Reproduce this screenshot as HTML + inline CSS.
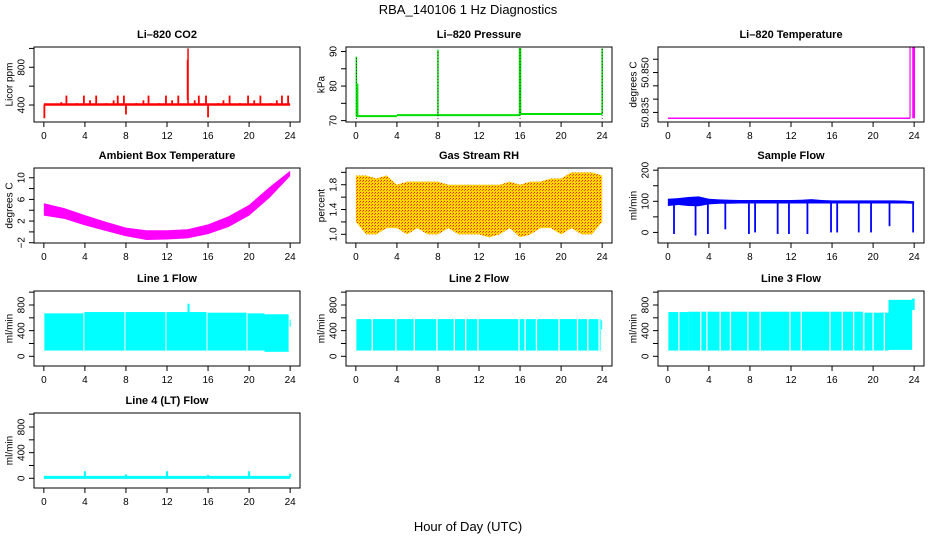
<!DOCTYPE html>
<html><head><meta charset="utf-8"><style>
body{margin:0;background:#fff}
svg{display:block;font-family:"Liberation Sans",sans-serif}
</style></head><body>
<svg id="c" width="936" height="540" viewBox="0 0 936 540">
<defs>
<pattern id="rhpat" width="3" height="3" patternUnits="userSpaceOnUse">
<rect width="3" height="3" fill="#ffd700"/><rect x="0" y="0" width="1" height="1" fill="#ff2000"/><rect x="2" y="1" width="1" height="1" fill="#ff6000"/>
</pattern>
</defs>
<text x="468" y="14" text-anchor="middle" font-size="13">RBA_140106  1 Hz Diagnostics</text>
<text x="468" y="531" text-anchor="middle" font-size="13">Hour of Day (UTC)</text>
</svg>
<script>
// ---- data ----
const xTicks=[0,4,8,12,16,20,24];
// CO2
const co2Base=405;
const co2SpikeHours=[1.7,2.2,3.2,3.9,4.5,5.1,6.1,6.8,7.2,7.8,9.0,9.7,10.2,11.2,11.9,12.5,13.1,14.7,15.1,15.8,17.0,17.5,18.1,19.1,19.9,20.5,21.1,22.1,22.7,23.2,23.8];
const co2SpikeValues=[430,500,420,500,450,500,420,450,500,500,420,450,500,420,500,450,500,450,500,500,420,450,500,420,500,450,500,420,450,500,500];
const co2DownHours=[0.05,8.0,16.0];
const co2DownValues=[260,300,270];
const co2BigHour=14.05, co2BigValue=1000;
// Pressure
const presStepHours=[0,4,16,24];
const presStepValues=[71.3,71.6,71.9];
const presSpikeHours=[0.05,8.0,16.0,24.0];
const presSpikeValues=[88.5,90.5,91.0,90.9];
// Li-820 temperature
const tempBase=50.8328;
const tempSpikeHours=[23.6,23.9,23.95,24.0];
const tempSpikeValue=50.8595;
// Ambient
const ambHours=[0,2,4,6,8,10,12,14,16,18,20,22,24];
const ambHigh=[5.3,4.4,3.1,1.9,0.8,0.3,0.3,0.5,1.4,2.9,5.0,8.3,11.3];
const ambLow=[3.0,2.4,1.2,0.2,-0.8,-1.5,-1.4,-1.2,-0.4,0.9,3.0,6.3,10.3];
// RH
const rhHours=[0,1,2,3,4,5,6,7,8,9,10,11,12,13,14,15,16,17,18,19,20,21,22,23,24];
const rhHigh=[1.95,1.95,1.9,1.95,1.8,1.85,1.85,1.85,1.85,1.8,1.8,1.8,1.8,1.8,1.8,1.85,1.8,1.85,1.85,1.9,1.9,2.0,2.0,2.0,1.95];
const rhLow=[1.2,1.0,1.0,1.1,1.1,1.0,1.1,1.0,1.0,1.1,1.0,1.0,1.0,0.95,1.0,1.1,0.95,1.0,1.1,1.1,1.0,1.1,1.0,1.0,1.2];
// Sample flow
const sfHours=[0,1,2,3,4,5,6,7,8,9,10,11,12,13,14,15,16,17,18,19,20,21,22,23,24];
const sfHigh=[108,110,114,116,108,106,105,104,104,104,104,104,104,105,107,104,103,103,103,103,103,103,103,102,100];
const sfLow=[85,88,85,84,90,92,92,93,93,93,93,93,93,93,93,93,93,93,93,93,93,93,93,93,92];
const sfDipHours=[0.6,2.7,3.9,5.6,7.9,8.5,10.7,11.8,13.6,15.9,16.5,18.6,19.8,21.6,23.9];
const sfDipValues=[-5,-10,-5,10,-5,0,-5,-5,-5,0,0,0,0,20,0];
// Line 1 flow
const l1Top=[670,690,690,690,680,670,655];
const l1Bottom=[90,90,90,90,90,90,70];
const l1Start=[0.05,3.95,7.95,11.95,15.95,19.85,21.5];
const l1End=[3.85,7.85,11.85,15.85,19.75,21.5,23.85];
const l1Gaps=[];
const l1SpikeHour=14.1, l1SpikeValue=820;
const l1EndBlock=[23.95,24.05,460,570];
// Line 2 flow
const l2Top=[580];
const l2Bottom=[90];
const l2Start=[0.05];
const l2End=[23.85];
const l2Gaps=[1.6,3.9,5.7,7.9,9.6,10.7,11.9,15.9,16.5,17.6,19.8,21.6,22.6,23.7];
const l2EndBlock=[23.9,24.0,420,560];
// Line 3 flow
const l3Top=[690,695,680,880];
const l3Bottom=[90,90,90,100];
const l3Start=[0.05,2.0,19.0,21.5];
const l3End=[2.0,19.0,21.5,23.8];
const l3Gaps=[1.07,3.2,3.8,5.1,6.1,7.8,9.0,11.9,13.0,15.8,17.0,18.1,19.1,20.0,21.1];
const l3EndBlock=[23.8,24.05,720,900];
// Line 4 flow
const l4Base=15;
const l4SpikeHours=[4.0,8.0,12.0,16.0,20.0,24.0];
const l4SpikeValues=[110,60,110,50,110,70];

// ---- layout ----
const svg=document.getElementById('c');
const NS='http://www.w3.org/2000/svg';
const colX=[34,346,658], rowY=[47,168,291,413], PW=266, PH=75;
function mk(tag,attrs,parent){const e=document.createElementNS(NS,tag);for(const k in attrs)e.setAttribute(k,attrs[k]);(parent||svg).appendChild(e);return e;}
function panel(cfg){
  const g=mk('g',{});
  
  
  const x0=colX[cfg.col], y0=rowY[cfg.row];
  const P={x0,y0,ymin:cfg.ymin,ymax:cfg.ymax,g};
  P.xs=h=>x0+(h+0.96)/25.92*PW;
  P.ys=v=>y0+PH-(v-cfg.ymin)/(cfg.ymax-cfg.ymin)*PH;
  const cp=mk('clipPath',{id:'cp'+cfg.name},g);
  mk('rect',{x:x0,y:y0,width:PW,height:PH},cp);
  P.plot=mk('g',{'clip-path':'url(#cp'+cfg.name+')'},g);
  
  
  const t=mk('text',{x:x0+PW/2,y:y0-9,'text-anchor':'middle','font-size':11,'font-weight':'bold'},g);
  t.textContent=cfg.title;
  
  
  const xa=mk('g',{},g);
  
  
  xTicks.forEach(h=>{const x=P.xs(h);mk('line',{x1:x,x2:x,y1:y0+PH,y2:y0+PH+5,stroke:'#000'},xa);
    const l=mk('text',{x:x,y:y0+PH+17,'text-anchor':'middle','font-size':10},xa);l.textContent=h;});
  const ya=mk('g',{},g);
  
  
  cfg.yticks.forEach(v=>{const y=P.ys(v);mk('line',{x1:x0-5,x2:x0,y1:y,y2:y,stroke:'#000'},ya);});
  cfg.ylabels.forEach(v=>{const y=P.ys(v);const l=mk('text',{x:x0-13,y:y,'text-anchor':'middle','font-size':10,transform:`rotate(-90 ${x0-13} ${y})`,dy:'0.35em'},ya);l.textContent=cfg.fmt?cfg.fmt(v):v;});
  const yl=mk('text',{x:x0-25,y:y0+PH/2,'text-anchor':'middle','font-size':10,transform:`rotate(-90 ${x0-25} ${y0+PH/2})`,dy:'0.35em'},g);
  yl.textContent=cfg.ylab;
  
  
  P.box=()=>mk('rect',{x:x0,y:y0,width:PW,height:PH,fill:'none',stroke:'#000'},g);
  return P;
}
function vline(P,h,v1,v2,col,w){mk('line',{x1:P.xs(h),x2:P.xs(h),y1:P.ys(v1),y2:P.ys(v2),stroke:col,'stroke-width':w||1.5},P.plot);}
function hline(P,h1,h2,v,col,w){mk('line',{x1:P.xs(h1),x2:P.xs(h2),y1:P.ys(v),y2:P.ys(v),stroke:col,'stroke-width':w||2},P.plot);}
function band(P,hrs,hi,lo,fill){let pts=hrs.map((h,i)=>P.xs(h)+','+P.ys(hi[i]));for(let i=hrs.length-1;i>=0;i--)pts.push(P.xs(hrs[i])+','+P.ys(lo[i]));mk('polygon',{points:pts.join(' '),fill:fill},P.plot);}
function rect(P,h1,h2,v1,v2,fill){mk('rect',{x:P.xs(h1),y:P.ys(v2),width:P.xs(h2)-P.xs(h1),height:P.ys(v1)-P.ys(v2),fill:fill},P.plot);}

// CO2
let P=panel({name:'co2-panel',title:'Li\u2013820 CO2',col:0,row:0,ymin:220,ymax:1015,yticks:[400,600,800,1000],ylabels:[400,800],ylab:'Licor ppm'});
hline(P,0,24,co2Base,'#f00',2.5);
co2SpikeHours.forEach((h,i)=>vline(P,h,co2Base,co2SpikeValues[i],'#f00',1.8));
co2DownHours.forEach((h,i)=>vline(P,h,co2Base,co2DownValues[i],'#f00',1.8));
vline(P,co2BigHour,co2Base,co2BigValue,'#f00',1.5);vline(P,co2BigHour-0.05,co2Base+50,co2BigValue-120,'#f00',1.5);
P.box();
// Pressure
P=panel({name:'pressure-panel',title:'Li\u2013820 Pressure',col:1,row:0,ymin:69.6,ymax:91.3,yticks:[70,75,80,85,90],ylabels:[70,80,90],ylab:'kPa'});
presStepValues.forEach((v,i)=>hline(P,presStepHours[i],presStepHours[i+1],v,'#00e000',2));
presSpikeHours.forEach((h,i)=>{vline(P,h,presStepValues[Math.min(2,Math.max(0,i-1))],presSpikeValues[i],'#00e000',i==2?2.5:1.5);
  mk('line',{x1:P.xs(h),x2:P.xs(h),y1:P.ys(70.5),y2:P.ys(presSpikeValues[i]),stroke:'#000','stroke-width':0.8,'stroke-dasharray':'1,2'},P.plot);});
vline(P,0.15,presStepValues[0],80.7,'#00e000',2);
P.box();
// Temperature
P=panel({name:'li820-temperature-panel',title:'Li\u2013820 Temperature',col:2,row:0,ymin:50.8314,ymax:50.8596,yticks:[50.835,50.840,50.845,50.850,50.855],ylabels:[50.835,50.850],fmt:v=>v.toFixed(3),ylab:'degrees C'});
hline(P,0,tempSpikeHours[0],tempBase,'#f0f',1.5);
tempSpikeHours.forEach((h,i)=>vline(P,h,tempBase,tempSpikeValue,'#f0f',i==0?1.2:1.8));
P.box();
// Ambient
P=panel({name:'ambient-temperature-panel',title:'Ambient Box Temperature',col:0,row:1,ymin:-2.05,ymax:11.8,yticks:[-2,0,2,4,6,8,10],ylabels:[-2,2,6,10],fmt:v=>v<0?'\u2212'+(-v):v,ylab:'degrees C'});
band(P,ambHours,ambHigh,ambLow,'#f0f');
P.box();
// RH
P=panel({name:'gas-stream-rh-panel',title:'Gas Stream RH',col:1,row:1,ymin:0.86,ymax:2.07,yticks:[1.0,1.2,1.4,1.6,1.8,2.0],ylabels:[1.0,1.4,1.8],fmt:v=>v.toFixed(1),ylab:'percent'});
band(P,rhHours,rhHigh,rhLow,'url(#rhpat)');
P.box();
// Sample flow
P=panel({name:'sample-flow-panel',title:'Sample Flow',col:2,row:1,ymin:-34,ymax:207,yticks:[0,50,100,150,200],ylabels:[0,100,200],ylab:'ml/min'});
band(P,sfHours,sfHigh,sfLow,'#00f');
sfDipHours.forEach((h,i)=>vline(P,h,95,sfDipValues[i],'#00f',1.8));
P.box();
// Line flows
function flowPanel(name,title,col,row,tops,bottoms,starts,ends,gaps,endBlock){
  const P=panel({name:name,title:title,col:col,row:row,ymin:-151,ymax:1018,yticks:[0,200,400,600,800,1000],ylabels:[0,400,800],ylab:'ml/min'});
  tops.forEach((t,i)=>rect(P,starts[i],ends[i],bottoms[i],t,'#0ff'));
  gaps.forEach(h=>vline(P,h,50,1000,'#fff',1.3));
  rect(P,endBlock[0],endBlock[1],endBlock[2],endBlock[3],'#0ff');
  return P;
}
P=flowPanel('line1-flow-panel','Line 1 Flow',0,2,l1Top,l1Bottom,l1Start,l1End,l1Gaps,l1EndBlock);
vline(P,l1SpikeHour,600,l1SpikeValue,'#0ff',2);
P.box();
P=flowPanel('line2-flow-panel','Line 2 Flow',1,2,l2Top,l2Bottom,l2Start,l2End,l2Gaps,l2EndBlock);P.box();
P=flowPanel('line3-flow-panel','Line 3 Flow',2,2,l3Top,l3Bottom,l3Start,l3End,l3Gaps,l3EndBlock);P.box();
P=panel({name:'line4-flow-panel',title:'Line 4 (LT) Flow',col:0,row:3,ymin:-151,ymax:1018,yticks:[0,200,400,600,800,1000],ylabels:[0,400,800],ylab:'ml/min'});
hline(P,0,24,l4Base,'#0ff',3);
l4SpikeHours.forEach((h,i)=>vline(P,h,l4Base,l4SpikeValues[i],'#0ff',2));
P.box();
</script>
</body></html>
